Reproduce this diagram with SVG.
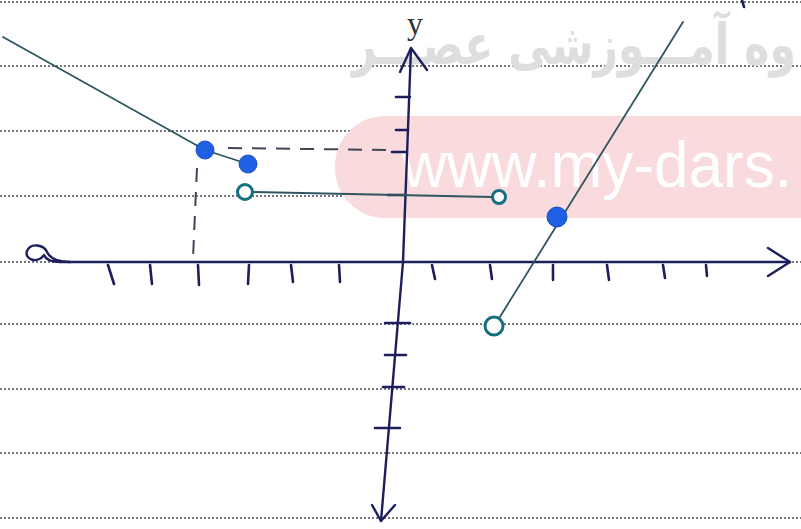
<svg xmlns="http://www.w3.org/2000/svg" width="801" height="529" viewBox="0 0 801 529">
<style>
.rule{stroke:#4a4a55;stroke-width:1.6;stroke-dasharray:2 2;fill:none}
.ax{stroke:#1d1f5c;stroke-width:2.4;fill:none;stroke-linecap:round;stroke-linejoin:round}
.tk{stroke:#1d1f5c;stroke-width:2.6;fill:none;stroke-linecap:round}
.gr{stroke:#2f5560;stroke-width:1.8;fill:none;stroke-linecap:round}
.dash{stroke:#3e4655;stroke-width:2;fill:none;stroke-dasharray:14 10}
.full{fill:#1f5fe3;stroke:#1a4fc0;stroke-width:1}
.open{fill:#fff;stroke:#156f80;stroke-width:3}
</style>
<rect width="801" height="529" fill="#fff"/>
<g id="paper">
<line class="rule" x1="0" y1="2" x2="801" y2="2"/>
<line class="rule" x1="0" y1="66" x2="801" y2="66"/>
<line class="rule" x1="0" y1="131" x2="801" y2="131"/>
<line class="rule" x1="0" y1="196" x2="801" y2="196"/>
<line class="rule" x1="0" y1="262" x2="801" y2="262"/>
<line class="rule" x1="0" y1="324" x2="801" y2="324"/>
<line class="rule" x1="0" y1="389" x2="801" y2="389"/>
<line class="rule" x1="0" y1="453" x2="801" y2="453"/>
<line class="rule" x1="0" y1="518" x2="801" y2="518"/>
</g>
<g id="watermark">
<rect x="335" y="116" width="520" height="102" rx="50" fill="#f9dadd"/>
<text x="352" y="64" font-family="'DejaVu Sans', sans-serif" font-weight="bold" font-size="56" fill="#dedede" textLength="444" lengthAdjust="spacingAndGlyphs">وه آمـــوزشی عصـــر</text>
<text x="402" y="187" font-family="'Liberation Sans', Arial, sans-serif" font-size="64" fill="#ffffff" textLength="390" lengthAdjust="spacingAndGlyphs">www.my-dars.</text>
</g>
<g id="axes">
<path class="ax" d="M60,262 L790,262"/>
<path class="ax" d="M768,248 L790,262 L768,276"/>
<path class="ax" d="M70,262 C56,262 50,258 47,252 C44,245 31,242 27,251 C24,260 38,264 44,255 C46,260 52,262 60,262"/>
<path class="ax" d="M411,48 L403,262 L381,521"/>
<path class="ax" d="M400,72 L411,48 L427,70"/>
<path class="ax" d="M372,505 L381,521 L395,505"/>
<text x="407" y="34" font-family="'Liberation Serif', serif" font-size="32" fill="#333">y</text>
</g>
<g id="ticks">
<path class="tk" d="M108,265 L114,284 M150,265 L152,284 M198,265 L199,285 M249,265 L248,284 M291,265 L293,282 M339,265 L340,282 M432,265 L435,279 M490,265 L492,279 M553,265 L553,280 M607,265 L609,280 M663,265 L665,278 M706,265 L707,276"/>
<path class="tk" d="M396,97 L410,97 M396,130 L408,130 M392,152 L406,152 M388,195 L405,195"/>
<path class="tk" d="M385,323 L410,323 M385,355 L406,355 M383,387 L404,387 M375,428 L400,428"/>
<path class="tk" d="M742,0 L744,7" stroke="#2a6fd0"/>
</g>
<g id="connectors">
<path class="gr" d="M3,37 L205,150 L248,164"/>
<path class="dash" d="M228,148 L392,150"/>
<path class="dash" d="M197,168 L193,258"/>
<path class="gr" d="M253,192 L492,197" stroke="#3b4450"/>
<path class="gr" d="M498,320 L683,22" stroke="#1d6a88"/>
</g>
<g id="points">
<circle id="p1" class="full" cx="205" cy="150" r="9"/>
<circle id="p2" class="full" cx="248" cy="164" r="9"/>
<circle id="p3" class="open" cx="245" cy="192" r="7.5"/>
<circle id="p4" class="open" cx="499" cy="197" r="6.5" stroke="#666" stroke-width="2"/>
<circle id="p5" class="full" cx="557" cy="217" r="10"/>
<circle id="p6" class="open" cx="494" cy="326" r="9"/>
</g>
</svg>
